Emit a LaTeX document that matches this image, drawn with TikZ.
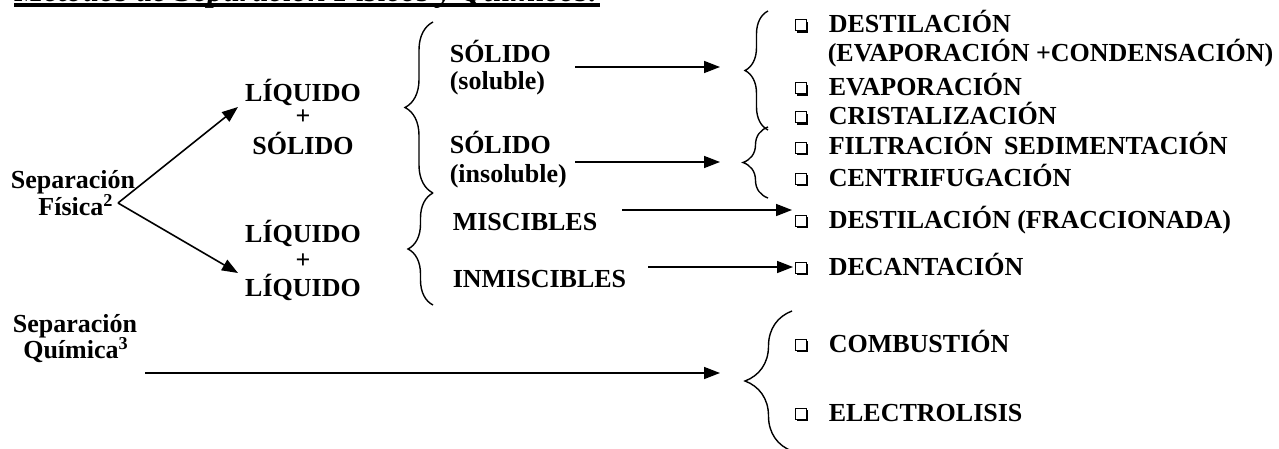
\documentclass[tikz,border=0pt]{standalone}
\usepackage{fontspec}
\setmainfont{Liberation Serif}
\usetikzlibrary{arrows.meta,positioning,decorations.pathreplacing,shadows}
\tikzset{every picture/.style={line width=0.8pt}}
\tikzstyle{izq}=[inner sep=0pt,anchor=base west]
\tikzstyle{cen}=[inner sep=0pt,anchor=base]
\tikzstyle{chk}=[draw,fill=white,inner sep=0pt,minimum size=5.5pt,line width=0.5pt,drop shadow={shadow xshift=1pt,shadow yshift=-1pt,opacity=1,fill=black}]
\tikzstyle{flecha}=[-{Triangle[length=8pt,width=6pt]},line width=0.8pt]
\tikzset{llave/.style={decorate,decoration={brace,amplitude=#1},line width=0.7pt}}

\begin{document}
\begin{tikzpicture}[x=0.5pt,y=-0.5pt,font=\fontsize{13}{15}\selectfont\bfseries]
\useasboundingbox (0,0) rectangle (1279,449);
\clip (0,0) rectangle (1279,449);
% titulo
\node[izq,font=\fontsize{16.2}{18}\selectfont\bfseries\itshape] (T) at (14,2) {Métodos de Separación Físicos y Químicos:};
\draw[line width=1.8pt] ([yshift=-1.5pt]T.base west) -- ([yshift=-1.5pt]T.base east);
% separacion fisica
\node[cen] (SF1) at (73,188) {Separación};
\node[cen] (SF2) at (76,215) {Física\textsuperscript{2}};
\node[cen] (LS1) at (303,102) {LÍQUIDO};
\node[cen] (LS2) at (303,125) {+};
\node[cen] (LS3) at (303,155) {SÓLIDO};
\node[cen] (LL1) at (303,242) {LÍQUIDO};
\node[cen] (LL2) at (303,268) {+};
\node[cen] (LL3) at (303,296) {LÍQUIDO};
\coordinate (V) at (118,203);
\coordinate (U1) at (238,107);
\coordinate (U2) at (238,273);
\draw[flecha] (V) -- (U1);
\draw[flecha] (V) -- (U2);
% llaves
\draw[llave=14pt] (433,193) -- (433,22);
\draw[llave=12.5pt] (433,305) -- (433,193);
\node[izq] (S1) at (449,63) {SÓLIDO};
\node[izq] (S2) at (449,90) {(soluble)};
\node[izq] (I1) at (449,154) {SÓLIDO};
\node[izq] (I2) at (449,182) {(insoluble)};
\node[izq] (M) at (452,230) {MISCIBLES};
\node[izq] (N) at (452,287) {INMISCIBLES};
\coordinate (a1) at (575,67);  \coordinate (b1) at (720,67);
\coordinate (a2) at (575,162); \coordinate (b2) at (720,162);
\coordinate (a3) at (622,210); \coordinate (b3) at (792,210);
\coordinate (a4) at (648,267); \coordinate (b4) at (793,267);
\draw[flecha] (a1) -- (b1);
\draw[flecha] (a2) -- (b2);
\draw[flecha] (a3) -- (b3);
\draw[flecha] (a4) -- (b4);
\draw[llave=11.5pt] (768,130) -- (768,11);
\draw[llave=12.5pt] (768,198) -- (768,127);
% metodos
\node[chk] (c1) at (800.5,25.5) {};
\node[izq] (D1) at (828,33) {DESTILACIÓN};
\node[izq] (D2) at (827,62) {(EVAPORACIÓN +CONDENSACIÓN)};
\node[chk] (c2) at (800.5,88.5) {};
\node[izq] (D3) at (828,96) {EVAPORACIÓN};
\node[chk] (c3) at (800.5,117.5) {};
\node[izq] (D4) at (828,125) {CRISTALIZACIÓN};
\node[chk] (c4) at (800.5,147.5) {};
\node[izq] (D5) at (828,155) {FILTRACIÓN\hspace{0.45em}SEDIMENTACIÓN};
\node[chk] (c5) at (800.5,178.5) {};
\node[izq] (D6) at (828,186) {CENTRIFUGACIÓN};
\node[chk] (c6) at (800.5,220.5) {};
\node[izq] (D7) at (828,228) {DESTILACIÓN (FRACCIONADA)};
\node[chk] (c7) at (800.5,267.5) {};
\node[izq] (D8) at (828,275) {DECANTACIÓN};
% separacion quimica
\node[cen] (SQ1) at (75,332) {Separación};
\node[cen] (SQ2) at (76,358) {Química\textsuperscript{3}};
\coordinate (a5) at (145,373); \coordinate (b5) at (720,373);
\draw[flecha] (a5) -- (b5);
\draw[llave=23.5pt] (792,451) -- (792,311);
\node[chk] (c8) at (800.5,344.5) {};
\node[izq] (Q1) at (828,352) {COMBUSTIÓN};
\node[chk] (c9) at (800.5,413.5) {};
\node[izq] (Q2) at (828,421) {ELECTROLISIS};
\end{tikzpicture}
\end{document}
